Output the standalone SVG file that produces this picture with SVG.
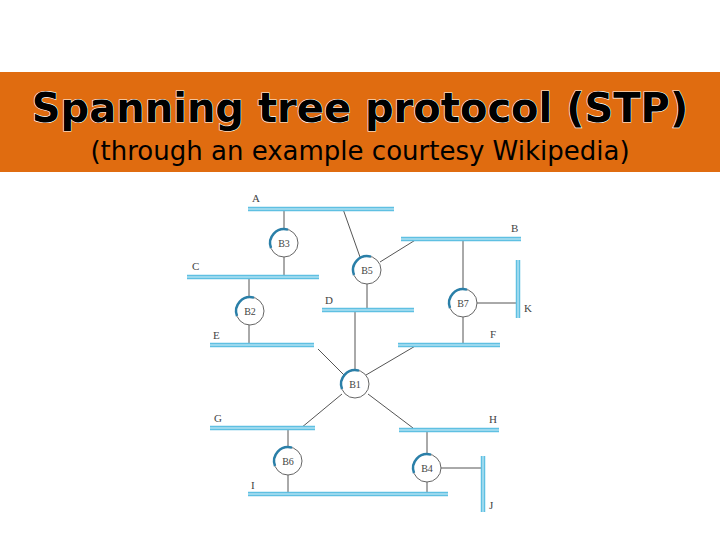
<svg xmlns="http://www.w3.org/2000/svg" width="720" height="540" viewBox="0 0 720 540">
<defs>
<style>
.bus{stroke:#5fc0e2;stroke-width:4.5}
.busi{stroke:#d8f1fa;stroke-width:1}
.ln{stroke:#555;stroke-width:1;fill:none}
.br{fill:#fff;stroke:#666;stroke-width:1}
.arc{fill:none;stroke:#2a7fa8;stroke-width:2.5}
.lb{font-family:"Liberation Serif",serif;font-size:11px;fill:#444}
.bl{font-family:"Liberation Serif",serif;font-size:10px;fill:#444;text-anchor:middle}
</style>
<g id="brg"><circle class="br" r="14"/><path class="arc" d="M-13,5 A14,14 0 0 1 4,-13.4"/></g>
</defs>
<rect width="720" height="540" fill="#fff"/>
<rect x="0" y="72" width="720" height="100" fill="#e06c10"/>
<text x="360" y="122" text-anchor="middle" font-family="DejaVu Sans, sans-serif" font-weight="bold" font-size="40" fill="#000" stroke="#fff" stroke-width="1.2" paint-order="stroke">Spanning tree protocol (STP)</text>
<text x="360" y="160" text-anchor="middle" font-family="DejaVu Sans, sans-serif" font-size="26" fill="#000">(through an example courtesy Wikipedia)</text>
<g id="connectors">
<path class="ln" d="M284,209V229M284,257V277M343,209L360,257M380,262L417,239M367,284V310M249,277V297M249,325V345M463,239V289M477,303H518M463,317V345M355,310V370M318,349L344,375M417,345L366,375M342,394L301,428M368,394L413,428M288,428V447M288,475V494M427,430V454M441,468H483M427,482V494"/>
</g>
<g id="buses">
<g id="A"><line class="bus" x1="248" y1="209" x2="394" y2="209"/><line class="busi" x1="248" y1="209" x2="394" y2="209"/><text class="lb" x="252" y="202">A</text></g>
<g id="B"><line class="bus" x1="401" y1="239" x2="521" y2="239"/><line class="busi" x1="401" y1="239" x2="521" y2="239"/><text class="lb" x="511" y="232">B</text></g>
<g id="C"><line class="bus" x1="187" y1="277" x2="319" y2="277"/><line class="busi" x1="187" y1="277" x2="319" y2="277"/><text class="lb" x="192" y="270">C</text></g>
<g id="D"><line class="bus" x1="322" y1="310" x2="414" y2="310"/><line class="busi" x1="322" y1="310" x2="414" y2="310"/><text class="lb" x="325" y="304">D</text></g>
<g id="E"><line class="bus" x1="210" y1="345" x2="314" y2="345"/><line class="busi" x1="210" y1="345" x2="314" y2="345"/><text class="lb" x="213" y="339">E</text></g>
<g id="F"><line class="bus" x1="398" y1="345" x2="500" y2="345"/><line class="busi" x1="398" y1="345" x2="500" y2="345"/><text class="lb" x="490" y="338">F</text></g>
<g id="G"><line class="bus" x1="210" y1="428" x2="315" y2="428"/><line class="busi" x1="210" y1="428" x2="315" y2="428"/><text class="lb" x="214" y="422">G</text></g>
<g id="H"><line class="bus" x1="399" y1="430" x2="499" y2="430"/><line class="busi" x1="399" y1="430" x2="499" y2="430"/><text class="lb" x="489" y="423">H</text></g>
<g id="I"><line class="bus" x1="248" y1="494" x2="448" y2="494"/><line class="busi" x1="248" y1="494" x2="448" y2="494"/><text class="lb" x="251" y="489">I</text></g>
<g id="K"><line class="bus" x1="518" y1="260" x2="518" y2="318"/><line class="busi" x1="518" y1="260" x2="518" y2="318"/><text class="lb" x="524" y="312">K</text></g>
<g id="J"><line class="bus" x1="483" y1="456" x2="483" y2="512"/><line class="busi" x1="483" y1="456" x2="483" y2="512"/><text class="lb" x="489" y="509">J</text></g>
</g>
<g id="B3"><use href="#brg" x="284" y="243"/><text class="bl" x="284" y="247">B3</text></g>
<g id="B5"><use href="#brg" x="367" y="270"/><text class="bl" x="367" y="274">B5</text></g>
<g id="B2"><use href="#brg" x="250" y="311"/><text class="bl" x="250" y="315">B2</text></g>
<g id="B7"><use href="#brg" x="463" y="303"/><text class="bl" x="463" y="307">B7</text></g>
<g id="B1"><use href="#brg" x="355" y="384"/><text class="bl" x="355" y="388">B1</text></g>
<g id="B6"><use href="#brg" x="288" y="461"/><text class="bl" x="288" y="465">B6</text></g>
<g id="B4"><use href="#brg" x="427" y="468"/><text class="bl" x="427" y="472">B4</text></g>
</svg>
